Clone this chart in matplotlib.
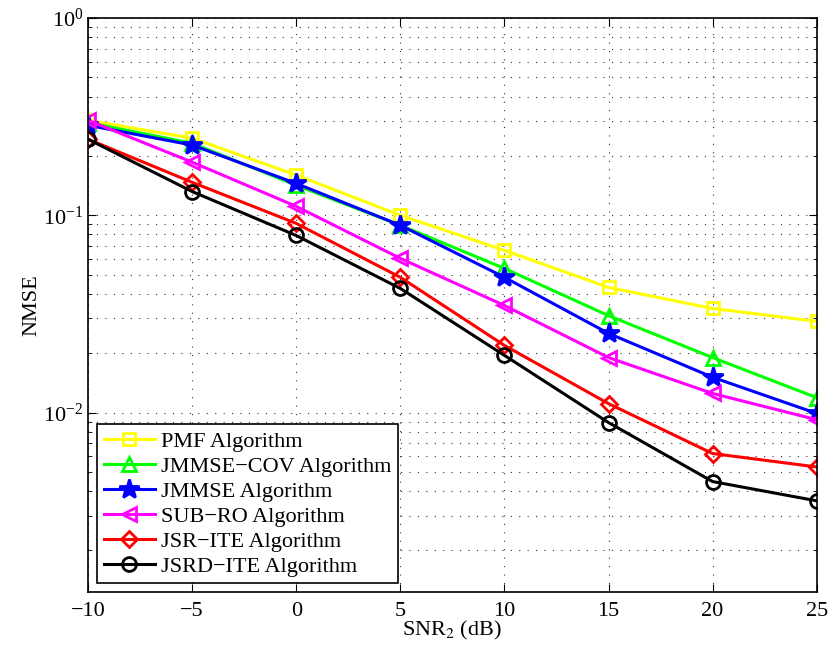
import numpy as np
import matplotlib
matplotlib.use("Agg")
import matplotlib.pyplot as plt
from matplotlib.ticker import LogLocator, NullFormatter

plt.rcParams['font.family'] = ['Liberation Serif', 'DejaVu Serif']
plt.rcParams['mathtext.fontset'] = 'stix'

# --- dane ---
snr = [-10, -5, 0, 5, 10, 15, 20, 25]
pmf = [0.303, 0.246, 0.160, 0.100, 0.0664, 0.0431, 0.0337, 0.0290]
jmmse_cov = [0.295, 0.232, 0.142, 0.089, 0.0538, 0.0310, 0.0190, 0.0119]
jmmse = [0.286, 0.227, 0.145, 0.089, 0.0485, 0.0252, 0.0151, 0.0099]
sub_ro = [0.303, 0.186, 0.111, 0.0605, 0.0349, 0.0190, 0.0125, 0.0092]
jsr_ite = [0.243, 0.147, 0.091, 0.0485, 0.0219, 0.0111, 0.0062, 0.0053]
jsrd_ite = [0.243, 0.132, 0.079, 0.0426, 0.0195, 0.0089, 0.00447, 0.00357]

labels = ["PMF Algorithm", "JMMSE\u2212COV Algorithm", "JMMSE Algorithm",
          "SUB\u2212RO Algorithm", "JSR\u2212ITE Algorithm", "JSRD\u2212ITE Algorithm"]

fig = plt.figure(figsize=(8.3, 6.55), dpi=100)
ax = fig.add_axes([0.106, 0.096, 0.878, 0.8765])

styles = [
    (pmf, "#ffff00", "s", "none", 9),
    (jmmse_cov, "#00ff00", "^", "none", 10),
    (jmmse, "#0000ff", "*", "#0000ff", 15),
    (sub_ro, "#ff00ff", "<", "none", 10),
    (jsr_ite, "#ff0000", "D", "none", 8),
    (jsrd_ite, "#000000", "o", "none", 10),
]
for (vals, col, mk, fc, ms), lab in zip(styles, labels):
    ax.semilogy(snr, vals, color=col, marker=mk, markerfacecolor=fc,
                markeredgecolor=col, markeredgewidth=2, markersize=ms,
                linewidth=2.2, label=lab)

ax.set_xlim(-10, 25)
ax.set_ylim(1.23e-3, 1)
ax.set_xticks(snr)
ax.set_xticklabels([str(v).replace("-", "\u2212") for v in snr])
ax.yaxis.set_major_locator(LogLocator(base=10, numticks=10))
ax.yaxis.set_minor_locator(LogLocator(base=10, subs=np.arange(2, 10), numticks=20))
ax.yaxis.set_minor_formatter(NullFormatter())

# siatka jak w MATLAB-ie: rzadkie kropki
ax.grid(True, which="major", axis="both", linestyle=(0, (1, 6.6)), color="#333333", linewidth=0.8)
ax.grid(True, which="minor", axis="y", linestyle=(0, (1, 6.6)), color="#333333", linewidth=0.8)

ax.tick_params(which="both", direction="in", top=True, right=True, labelsize=16)
ax.tick_params(which="major", length=6)
ax.tick_params(which="minor", length=3)
ax.tick_params(axis="x", pad=7)
for s in ax.spines.values():
    s.set_linewidth(1.2)

ax.set_xlabel("SNR$_2$ (dB)", fontsize=16, labelpad=-1)
ax.set_ylabel("NMSE", fontsize=16, labelpad=1)

leg = ax.legend(loc="lower left", fontsize=16, handlelength=2.3, fancybox=False,
                framealpha=1, edgecolor="black", borderpad=0.3, labelspacing=0.2,
                handletextpad=0.3, borderaxespad=0.4)
leg.get_frame().set_linewidth(1.2)

fig.savefig("out.png", dpi=100)
